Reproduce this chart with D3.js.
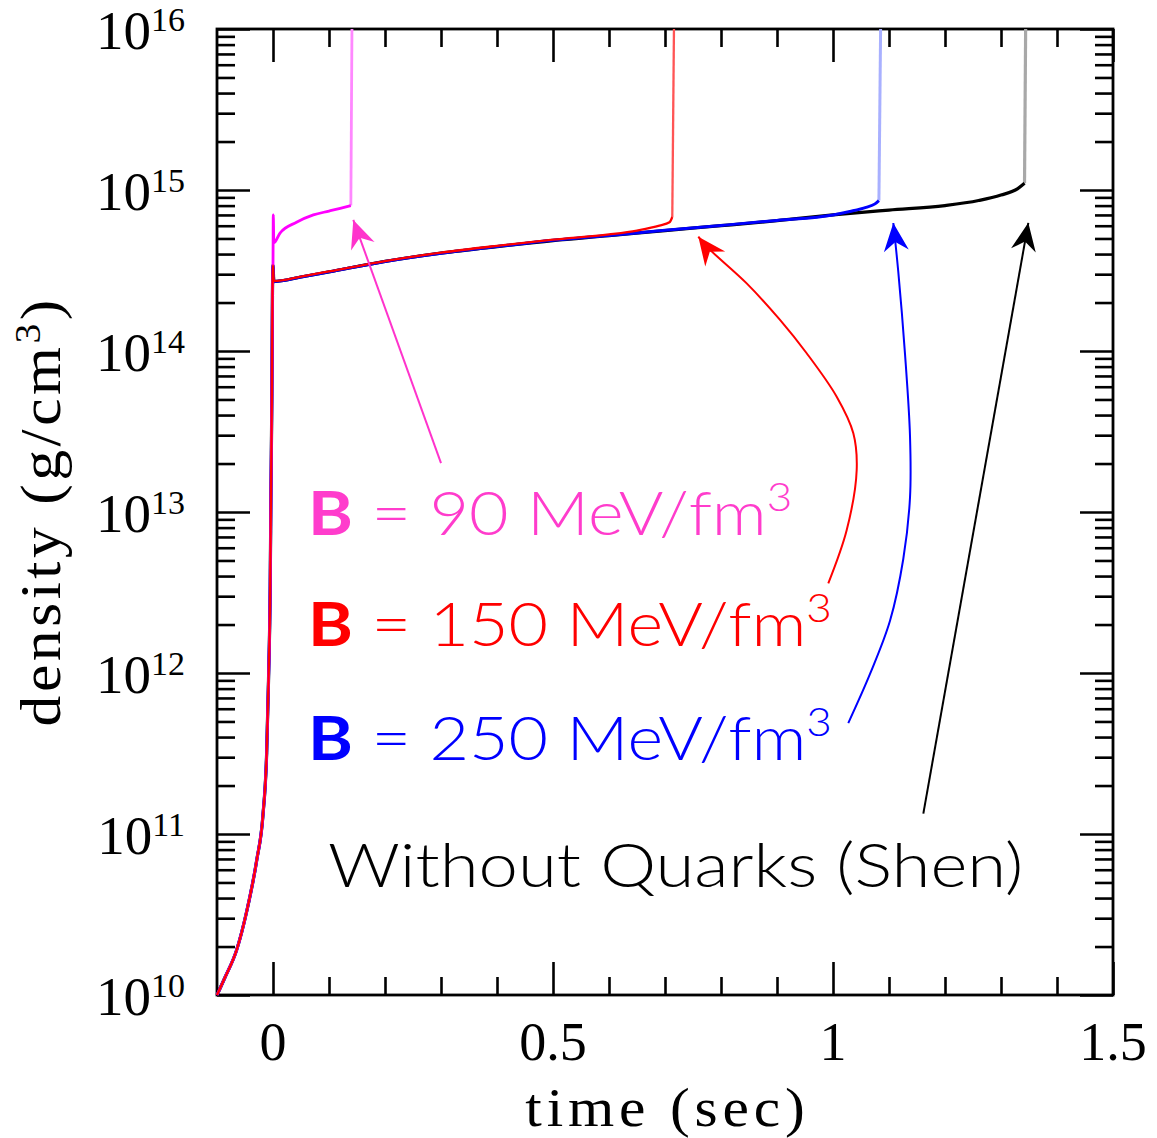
<!DOCTYPE html>
<html>
<head>
<meta charset="utf-8">
<script src="https://cdn.jsdelivr.net/npm/d3@7"></script>
<style>
  html, body { margin: 0; padding: 0; background: #fff; }
  svg { display: block; }
</style>
</head>
<body>
<svg id="chart" width="1157" height="1138"></svg>
<script>
// ---- data: central density vs. post-bounce time ----
// collapse phase shared by every model (time in s, density in g/cm^3)
const riseTime    = [-0.1, -0.086, -0.065, -0.047, -0.029, -0.018, -0.0113, -0.008, -0.005, -0.0036, -0.002, -0.001, 0.0];
const riseDensity = [1e10, 1.28e10, 1.9e10, 3.3e10, 6.9e10, 1.3e11, 3.2e11, 9e11, 3.5e12, 1.4e13, 5.4e13, 2.2e14, 3.4e14];

// Shen EOS, no quark phase
const shenTime    = [0.0015, 0.05, 0.1, 0.2, 0.3, 0.4, 0.5, 0.6, 0.7, 0.8, 0.9, 1.0, 1.1, 1.2, 1.26, 1.3, 1.33, 1.342, 1.344];
const shenDensity = [2.7e14, 2.88e14, 3.1e14, 3.6e14, 4.05e14, 4.45e14, 4.85e14, 5.2e14, 5.6e14, 6.0e14, 6.45e14, 7.0e14, 7.5e14, 8.0e14, 8.6e14, 9.3e14, 1.02e15, 1.10e15, 1e16];

// bag constant B = 250 MeV/fm^3
const b250Time    = [0.0015, 0.05, 0.1, 0.2, 0.3, 0.4, 0.5, 0.6, 0.7, 0.8, 0.9, 1.0, 1.03, 1.059, 1.075, 1.082, 1.085];
const b250Density = [2.7e14, 2.88e14, 3.1e14, 3.6e14, 4.05e14, 4.45e14, 4.87e14, 5.22e14, 5.62e14, 6.02e14, 6.47e14, 7.0e14, 7.35e14, 7.8e14, 8.2e14, 8.6e14, 1e16];

// bag constant B = 150 MeV/fm^3
const b150Time    = [0.0015, 0.05, 0.1, 0.2, 0.3, 0.4, 0.5, 0.6, 0.65, 0.69, 0.708, 0.713, 0.716];
const b150Density = [2.72e14, 2.9e14, 3.12e14, 3.62e14, 4.08e14, 4.5e14, 4.92e14, 5.3e14, 5.6e14, 6.0e14, 6.3e14, 6.8e14, 1e16];

// bag constant B = 90 MeV/fm^3
const b90Time     = [0.0005, 0.0015, 0.0125, 0.042, 0.072, 0.1, 0.12, 0.139, 0.141];
const b90Density  = [7.0e14, 4.7e14, 5.4e14, 6.3e14, 7.0e14, 7.4e14, 7.7e14, 8.0e14, 1e16];

// axis ticks
const xMajorTicks = [0, 0.5, 1, 1.5];
const xMinorTicks = [0.1, 0.2, 0.3, 0.4, 0.6, 0.7, 0.8, 0.9, 1.1, 1.2, 1.3, 1.4];
const yExponents  = [10, 11, 12, 13, 14, 15, 16];
const yMinorMantissas = [2, 3, 4, 5, 6, 7, 8, 9];

// annotation labels: [bold prefix, rest, superscript], anchor [time, log10 density]
const labelParts   = [["B", " = 90 MeV/fm", "3"], ["B", " = 150 MeV/fm", "3"], ["B", " = 250 MeV/fm", "3"], ["", "Without Quarks (Shen)", ""]];
const labelAnchors = [[0.0625, 12.857], [0.0625, 12.168], [0.0625, 11.46], [0.0982, 10.671]];

// annotation arrows, waypoints as [time, log10 density], ending at the tip
const arrow90   = [[0.3, 13.304], [0.1434, 14.814]];
const arrow150  = [[0.9916, 12.557], [1.0245, 12.888], [1.0423, 13.261], [1.0363, 13.489], [1.0066, 13.716],
                   [0.953, 13.986], [0.9054, 14.193], [0.8459, 14.42], [0.7745, 14.648], [0.7595, 14.71]];
const arrow250  = [[1.0273, 11.689], [1.0661, 11.994], [1.1018, 12.324], [1.1255, 12.708], [1.1375, 13.089],
                   [1.1375, 13.472], [1.1286, 13.981], [1.1166, 14.491], [1.1077, 14.795]];
const arrowShen = [[1.1613, 11.127], [1.3488, 14.796]];

// ---- layout ----
const svg = d3.select("#chart");
const margin = { left: 217, top: 29, right: 44, bottom: 143 };
const W = 1157 - margin.left - margin.right;
const H = 1138 - margin.top - margin.bottom;

svg.append("rect").attr("width", 1157).attr("height", 1138).attr("fill", "#fff");

const g = svg.append("g").attr("transform", `translate(${margin.left},${margin.top})`);

const x = d3.scaleLinear().domain([-0.1, 1.5]).range([0, W]);
const y = d3.scaleLog().domain([1e10, 1e16]).range([H, 0]);

const serif = "'Liberation Serif', 'DejaVu Serif', serif";
const sans  = "Lato, 'Open Sans', 'Noto Sans', sans-serif";

// ---- ticks (all pointing into the frame, on all four sides) ----
const yMajor = yExponents.map(e => Math.pow(10, e));
const yMinor = [];
yExponents.slice(0, -1).forEach(e => yMinorMantissas.forEach(m => yMinor.push(m * Math.pow(10, e))));

const majorLen = 33, minorLen = 18;
function tickGroup(axis, tx, ty) {
  const sel = g.append("g").attr("transform", `translate(${tx},${ty})`).call(axis);
  sel.select(".domain").remove();
  sel.selectAll("text").remove();
  sel.selectAll("line").attr("stroke", "#000").attr("stroke-width", 2.6);
  return sel;
}
tickGroup(d3.axisBottom(x).tickValues(xMajorTicks).tickSize(-majorLen), 0, H);
tickGroup(d3.axisBottom(x).tickValues(xMinorTicks).tickSize(-minorLen), 0, H);
tickGroup(d3.axisTop(x).tickValues(xMajorTicks).tickSize(-majorLen), 0, 0);
tickGroup(d3.axisTop(x).tickValues(xMinorTicks).tickSize(-minorLen), 0, 0);
tickGroup(d3.axisLeft(y).tickValues(yMajor).tickSize(-majorLen), 0, 0);
tickGroup(d3.axisLeft(y).tickValues(yMinor).tickSize(-minorLen), 0, 0);
tickGroup(d3.axisRight(y).tickValues(yMajor).tickSize(-majorLen), W, 0);
tickGroup(d3.axisRight(y).tickValues(yMinor).tickSize(-minorLen), W, 0);

// frame
g.append("rect").attr("x", 0).attr("y", 0).attr("width", W).attr("height", H)
  .attr("fill", "none").attr("stroke", "#000").attr("stroke-width", 2.8);

// ---- tick labels ----
g.append("g").selectAll("text").data(xMajorTicks).join("text")
  .attr("x", d => x(d)).attr("y", H + 65)
  .attr("text-anchor", "middle")
  .attr("font-family", serif).attr("font-size", 54)
  .text(d => d3.format("")(d));

const yl = g.append("g").selectAll("text").data(yExponents).join("text")
  .attr("x", -32).attr("y", d => y(Math.pow(10, d)) + 20)
  .attr("text-anchor", "end")
  .attr("font-family", serif);
yl.append("tspan").attr("font-size", 55).text("10");
yl.append("tspan").attr("font-size", 34).attr("dy", -18).text(d => d);

// ---- axis titles (wide roman lettering) ----
svg.append("text")
  .attr("transform", `translate(${margin.left + x(0.7)},1126) scale(1.1,1)`)
  .attr("text-anchor", "middle")
  .attr("font-family", serif).attr("font-size", 54)
  .attr("textLength", 254).attr("lengthAdjust", "spacing")
  .text("time (sec)");

const yt = svg.append("text")
  .attr("transform", `translate(60,513) rotate(-90) scale(1.1,1)`)
  .attr("text-anchor", "middle")
  .attr("font-family", serif).attr("font-size", 56)
  .attr("textLength", 388).attr("lengthAdjust", "spacing");
yt.append("tspan").text("density (g/cm");
yt.append("tspan").attr("font-size", 36).attr("dy", -20).text("3");
yt.append("tspan").attr("dy", 20).text(")");

// ---- curves ----
const line = d3.line().x(d => x(d[0])).y(d => y(d[1])).curve(d3.curveMonotoneX);
const zip = (ts, vs) => ts.map((t, i) => [t, vs[i]]);
const rise = zip(riseTime, riseDensity);

const models = [
  { pts: rise.concat(zip(shenTime, shenDensity)), color: "#000000", jump: "#a8a8a8", w: 3.2 },
  { pts: rise.concat(zip(b250Time, b250Density)), color: "#0000ff", jump: "#a8b0ff", w: 3.0 },
  { pts: rise.concat(zip(b90Time, b90Density)),   color: "#ff00ff", jump: "#ff88ff", w: 2.8 },
  { pts: rise.concat(zip(b150Time, b150Density)), color: "#ff0000", jump: "#ff5555", w: 2.3 }
];

models.forEach(m => {
  const n = m.pts.length;
  // final collapse to the top of the frame drawn lighter
  g.append("path").datum(m.pts.slice(n - 2))
    .attr("d", d3.line().x(d => x(d[0])).y(d => y(d[1])))
    .attr("fill", "none").attr("stroke", m.jump).attr("stroke-width", m.w);
  g.append("path").datum(m.pts.slice(0, n - 1))
    .attr("d", line)
    .attr("fill", "none").attr("stroke", m.color).attr("stroke-width", m.w)
    .attr("stroke-linejoin", "round");
});

// ---- arrows ----
const defs = svg.append("defs");
const arrowColors = ["#ff33cc", "#ff0000", "#0000ff", "#000000"];
arrowColors.forEach((c, i) => {
  defs.append("marker")
    .attr("id", "head" + i)
    .attr("markerUnits", "userSpaceOnUse")
    .attr("viewBox", "-30 -15 32 30")
    .attr("refX", 0).attr("refY", 0)
    .attr("markerWidth", 32).attr("markerHeight", 30)
    .attr("orient", "auto")
    .append("path")
    .attr("d", "M0,0 L-28,-12.5 L-19,0 L-28,12.5 Z")
    .attr("fill", c);
});

const arrowLine = d3.line().x(d => x(d[0])).y(d => y(Math.pow(10, d[1]))).curve(d3.curveCatmullRom);
[arrow90, arrow150, arrow250, arrowShen].forEach((a, i) => {
  g.append("path").datum(a)
    .attr("d", arrowLine)
    .attr("fill", "none")
    .attr("stroke", arrowColors[i]).attr("stroke-width", 2)
    .attr("marker-end", `url(#head${i})`);
});

// ---- labels (wide geometric lettering, stretched horizontally) ----
const labelColors  = ["#ff3ccc", "#ff0000", "#0000ff", "#000000"];
const labelStretch = [1.1, 1.1, 1.1, 1.14];
labelParts.forEach((p, i) => {
  const t = g.append("text")
    .attr("transform", `translate(${x(labelAnchors[i][0])},${y(Math.pow(10, labelAnchors[i][1]))}) scale(${labelStretch[i]},1)`)
    .attr("font-family", sans).attr("font-size", 62).attr("font-weight", 300)
    .attr("fill", labelColors[i]);
  if (p[0]) t.append("tspan").attr("font-weight", "bold").text(p[0]);
  t.append("tspan").text(p[1]);
  if (p[2]) t.append("tspan").attr("font-size", 40).attr("dy", -24).text(p[2]);
});
</script>
</body>
</html>
